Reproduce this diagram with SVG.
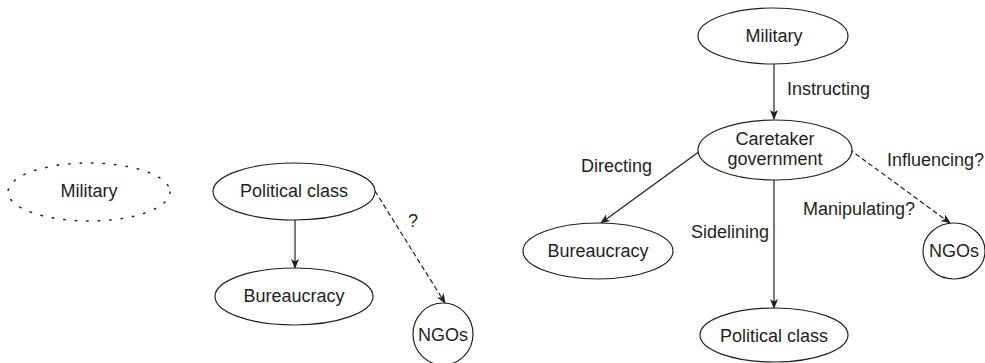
<svg xmlns="http://www.w3.org/2000/svg" width="985" height="363" viewBox="0 0 985 363">
<style>
.n{fill:#fff;stroke:#231f20;stroke-width:1.2}
.dot{fill:none;stroke:#231f20;stroke-width:1.5;stroke-dasharray:1.5 10;stroke-linecap:round}
.t{font-family:"Liberation Sans",Arial,sans-serif;font-size:18px;fill:#231f20;text-anchor:middle}
.l{font-family:"Liberation Sans",Arial,sans-serif;font-size:18px;fill:#231f20}
.e{fill:none;stroke:#231f20;stroke-width:1.2;marker-end:url(#ah)}
.d{stroke-dasharray:5 3}
</style>
<defs>
<marker id="ah" markerWidth="10" markerHeight="8" refX="9" refY="4" orient="auto" markerUnits="userSpaceOnUse">
<path d="M0,0 L10,4 L0,8 L2.5,4 Z" fill="#231f20"/>
</marker>
</defs>
<g id="connectors">
<line class="e" x1="295" y1="220" x2="295" y2="268"/>
<line class="e d" x1="375" y1="191" x2="445" y2="303"/>
<line class="e" x1="774" y1="64" x2="774" y2="119"/>
<line class="e" x1="700" y1="151" x2="601" y2="223"/>
<line class="e" x1="774" y1="180" x2="774" y2="308"/>
<line class="e d" x1="849" y1="149" x2="950" y2="223"/>
<text class="l" x="408" y="227">?</text>
<text class="l" x="787" y="95">Instructing</text>
<text class="l" x="581" y="172">Directing</text>
<text class="l" x="691" y="238">Sidelining</text>
<text class="l" x="887" y="166">Influencing?</text>
<text class="l" x="803" y="215">Manipulating?</text>
</g>
<g id="military-left">
<ellipse class="dot" cx="89" cy="192" rx="81" ry="29"/>
<text class="t" x="89" y="197">Military</text>
</g>
<g id="political-left">
<ellipse class="n" cx="294" cy="191.5" rx="81" ry="28.5"/>
<text class="t" x="294" y="197">Political class</text>
</g>
<g id="bureaucracy-left">
<ellipse class="n" cx="294" cy="296.5" rx="79" ry="28.5"/>
<text class="t" x="294" y="302">Bureaucracy</text>
</g>
<g id="ngos-left">
<ellipse class="n" cx="443" cy="334" rx="30" ry="31"/>
<text class="t" x="443" y="341">NGOs</text>
</g>
<g id="military-right">
<ellipse class="n" cx="773" cy="36" rx="75" ry="28"/>
<text class="t" x="774" y="42">Military</text>
</g>
<g id="caretaker">
<ellipse class="n" cx="775" cy="150" rx="77" ry="30"/>
<text class="t" x="775" y="145">Caretaker</text>
<text class="t" x="775" y="165">government</text>
</g>
<g id="bureaucracy-right">
<ellipse class="n" cx="598" cy="251" rx="75" ry="28"/>
<text class="t" x="598" y="257">Bureaucracy</text>
</g>
<g id="political-right">
<ellipse class="n" cx="774" cy="335" rx="74" ry="27"/>
<text class="t" x="774" y="342">Political class</text>
</g>
<g id="ngos-right">
<ellipse class="n" cx="954" cy="251" rx="31" ry="28"/>
<text class="t" x="954" y="257">NGOs</text>
</g>
</svg>
